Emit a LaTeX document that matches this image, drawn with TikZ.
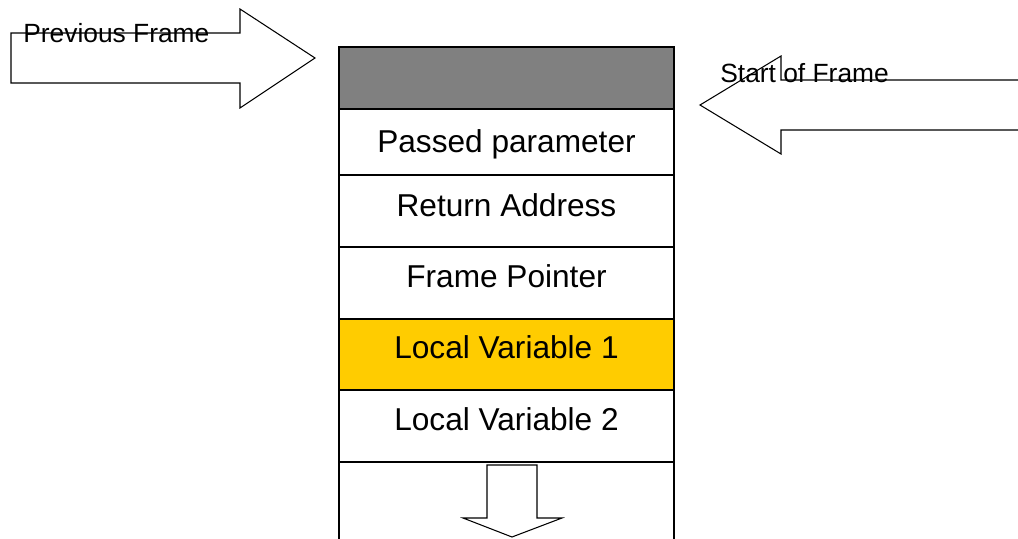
\documentclass[tikz,border=0pt]{standalone}
\usepackage{fontspec}
\setmainfont{Liberation Sans}
\definecolor{framegray}{HTML}{808080}
\definecolor{localyellow}{HTML}{FFCC00}
\tikzset{
  cell/.style={draw=black, line width=0.8pt},
  cellText/.style={anchor=base, inner sep=0pt, font=\fontsize{18}{20}\selectfont},
  blockArrow/.style={draw=black, line width=0.6pt, fill=white, line join=miter},
  arrowText/.style={anchor=base west, inner sep=0pt, font=\fontsize{15}{17}\selectfont},
}

\begin{document}
\begin{tikzpicture}[x=0.02cm, y=-0.02cm]
			%%%%% START %%%%%
			\useasboundingbox (0, 0) rectangle (1018, 538);
			\clip (0, 0) rectangle (1018, 538);
			
			% stack frame
			\draw[cell, fill=framegray] (339, 47) rectangle (674, 109);
			\draw[cell] (339, 109) rectangle (674, 175);
			\draw[cell] (339, 175) rectangle (674, 247);
			\draw[cell] (339, 247) rectangle (674, 319);
			\draw[cell, fill=localyellow] (339, 319) rectangle (674, 390);
			\draw[cell] (339, 390) rectangle (674, 462);
			\draw[cell] (339, 462) rectangle (674, 560);
			
			\node[cellText] (param) at (506.5, 152) {Passed parameter};
			\node[cellText] (retaddr) at (506.5, 216) {Return Address};
			\node[cellText] (fp) at (506.5, 287) {Frame Pointer};
			\node[cellText] (local1) at (506.5, 358) {Local Variable 1};
			\node[cellText] (local2) at (506.5, 430) {Local Variable 2};
			
			% growth direction
			\draw[blockArrow] (487, 465) -- (537, 465) -- (537, 518) -- (562, 518)
				-- (512, 537) -- (463, 518) -- (487, 518) -- cycle;
			
			% previous frame
			\draw[blockArrow] (11, 33) -- (240, 33) -- (240, 9) -- (315, 58)
				-- (240, 108) -- (240, 83) -- (11, 83) -- cycle;
			\node[arrowText] (prev) at (23, 42) {Previous Frame};
			
			% start of frame
			\draw[blockArrow] (1030, 80) -- (781, 80) -- (781, 56) -- (700, 105)
				-- (781, 154) -- (781, 130) -- (1030, 130);
			\node[arrowText] (start) at (720, 82) {Start of Frame};
			%%%%% END %%%%%
\end{tikzpicture}
\end{document}
